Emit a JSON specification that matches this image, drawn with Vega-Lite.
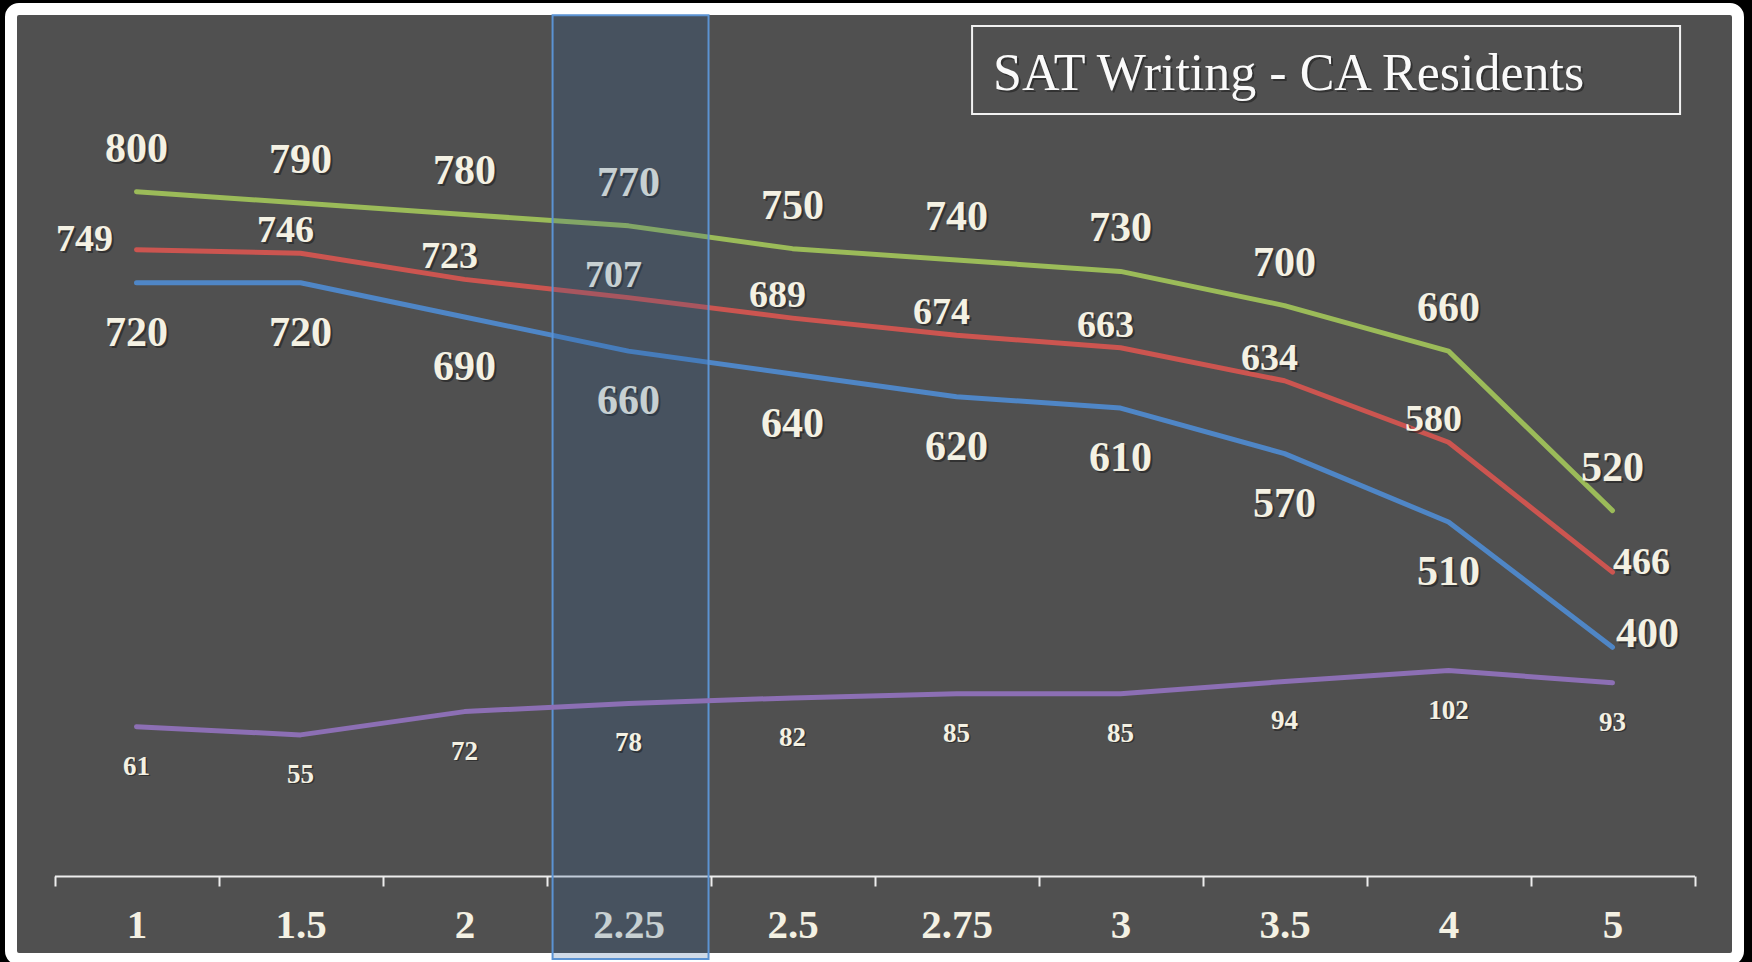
{
  "$schema": "https://vega.github.io/schema/vega-lite/v6.json",
  "width": 1727,
  "height": 950,
  "autosize": "none",
  "padding": {"left": 11, "top": 9, "right": 14, "bottom": 3},
  "background": "#000000",
  "config": {
    "view": {"fill": "#505050", "stroke": "#FFFFFF", "strokeWidth": 12, "cornerRadius": 8},
    "font": "Liberation Serif"
  },
  "data": {
    "values": [
      {"x": "1", "series": "High", "value": 800},
      {"x": "1.5", "series": "High", "value": 790},
      {"x": "2", "series": "High", "value": 780},
      {"x": "2.25", "series": "High", "value": 770},
      {"x": "2.5", "series": "High", "value": 750},
      {"x": "2.75", "series": "High", "value": 740},
      {"x": "3", "series": "High", "value": 730},
      {"x": "3.5", "series": "High", "value": 700},
      {"x": "4", "series": "High", "value": 660},
      {"x": "5", "series": "High", "value": 520},
      {"x": "1", "series": "Average", "value": 749},
      {"x": "1.5", "series": "Average", "value": 746},
      {"x": "2", "series": "Average", "value": 723},
      {"x": "2.25", "series": "Average", "value": 707},
      {"x": "2.5", "series": "Average", "value": 689},
      {"x": "2.75", "series": "Average", "value": 674},
      {"x": "3", "series": "Average", "value": 663},
      {"x": "3.5", "series": "Average", "value": 634},
      {"x": "4", "series": "Average", "value": 580},
      {"x": "5", "series": "Average", "value": 466},
      {"x": "1", "series": "Low", "value": 720},
      {"x": "1.5", "series": "Low", "value": 720},
      {"x": "2", "series": "Low", "value": 690},
      {"x": "2.25", "series": "Low", "value": 660},
      {"x": "2.5", "series": "Low", "value": 640},
      {"x": "2.75", "series": "Low", "value": 620},
      {"x": "3", "series": "Low", "value": 610},
      {"x": "3.5", "series": "Low", "value": 570},
      {"x": "4", "series": "Low", "value": 510},
      {"x": "5", "series": "Low", "value": 400},
      {"x": "1", "series": "Students", "value": 61},
      {"x": "1.5", "series": "Students", "value": 55},
      {"x": "2", "series": "Students", "value": 72},
      {"x": "2.25", "series": "Students", "value": 78},
      {"x": "2.5", "series": "Students", "value": 82},
      {"x": "2.75", "series": "Students", "value": 85},
      {"x": "3", "series": "Students", "value": 85},
      {"x": "3.5", "series": "Students", "value": 94},
      {"x": "4", "series": "Students", "value": 102},
      {"x": "5", "series": "Students", "value": 93}
    ]
  },
  "encoding": {
    "x": {
      "field": "x",
      "type": "ordinal",
      "sort": null,
      "scale": {"range": [43.5, 1683.5], "paddingInner": 0, "paddingOuter": 0},
      "axis": {
        "title": null,
        "offset": -83,
        "labelAngle": 0,
        "domainColor": "#EDEDED",
        "domainWidth": 2,
        "tickColor": "#EDEDED",
        "tickWidth": 2,
        "tickSize": 10,
        "tickBand": "extent",
        "labelFont": "Liberation Serif",
        "labelFontSize": 41,
        "labelFontWeight": "bold",
        "labelColor": "#F4F1E3",
        "labelBaseline": "middle",
        "labelPadding": 39,
        "grid": false
      }
    }
  },
  "layer": [
    {
      "encoding": {
        "y": {"field": "value", "type": "quantitative", "scale": {"domain": [126.3, 960.4], "nice": false, "zero": false}, "axis": null}
      },
      "layer": [
        {
          "transform": [{"filter": "datum.series !== 'Students'"}],
          "mark": {"type": "line", "strokeWidth": 5, "strokeCap": "round", "strokeJoin": "round"},
          "encoding": {
            "color": {"field": "series", "type": "nominal", "scale": {"domain": ["High", "Average", "Low"], "range": ["#9BBB59", "#CC5550", "#4F86C6"]}, "legend": null}
          }
        },
        {
          "transform": [{"filter": "datum.series === 'High'"}],
          "mark": {"type": "text", "font": "Liberation Serif", "fontWeight": "bold", "fontSize": 42, "color": "#1A1A1A", "opacity": 0.55, "baseline": "middle", "align": "center", "dx": 2, "dy": -41},
          "encoding": {"text": {"field": "value", "type": "quantitative"}}
        },
        {
          "transform": [{"filter": "datum.series === 'High'"}],
          "mark": {"type": "text", "font": "Liberation Serif", "fontWeight": "bold", "fontSize": 42, "color": "#F4F1E3", "baseline": "middle", "align": "center", "dy": -43},
          "encoding": {"text": {"field": "value", "type": "quantitative"}}
        },
        {
          "transform": [{"filter": "datum.series === 'Low' && datum.x !== '5'"}],
          "mark": {"type": "text", "font": "Liberation Serif", "fontWeight": "bold", "fontSize": 42, "color": "#1A1A1A", "opacity": 0.55, "baseline": "middle", "align": "center", "dx": 2, "dy": 52},
          "encoding": {"text": {"field": "value", "type": "quantitative"}}
        },
        {
          "transform": [{"filter": "datum.series === 'Low' && datum.x !== '5'"}],
          "mark": {"type": "text", "font": "Liberation Serif", "fontWeight": "bold", "fontSize": 42, "color": "#F4F1E3", "baseline": "middle", "align": "center", "dy": 50},
          "encoding": {"text": {"field": "value", "type": "quantitative"}}
        },
        {
          "transform": [{"filter": "datum.series === 'Low' && datum.x === '5'"}],
          "mark": {"type": "text", "font": "Liberation Serif", "fontWeight": "bold", "fontSize": 42, "color": "#1A1A1A", "opacity": 0.55, "baseline": "middle", "align": "center", "dx": 37, "dy": -11},
          "encoding": {"text": {"field": "value", "type": "quantitative"}}
        },
        {
          "transform": [{"filter": "datum.series === 'Low' && datum.x === '5'"}],
          "mark": {"type": "text", "font": "Liberation Serif", "fontWeight": "bold", "fontSize": 42, "color": "#F4F1E3", "baseline": "middle", "align": "center", "dx": 35, "dy": -13},
          "encoding": {"text": {"field": "value", "type": "quantitative"}}
        },
        {
          "transform": [{"filter": "datum.series === 'Average' && datum.x !== '1' && datum.x !== '5'"}],
          "mark": {"type": "text", "font": "Liberation Serif", "fontWeight": "bold", "fontSize": 38, "color": "#1A1A1A", "opacity": 0.55, "baseline": "middle", "align": "center", "dx": -13, "dy": -20},
          "encoding": {"text": {"field": "value", "type": "quantitative"}}
        },
        {
          "transform": [{"filter": "datum.series === 'Average' && datum.x !== '1' && datum.x !== '5'"}],
          "mark": {"type": "text", "font": "Liberation Serif", "fontWeight": "bold", "fontSize": 38, "color": "#F4F1E3", "baseline": "middle", "align": "center", "dx": -15, "dy": -22},
          "encoding": {"text": {"field": "value", "type": "quantitative"}}
        },
        {
          "transform": [{"filter": "datum.series === 'Average' && datum.x === '1'"}],
          "mark": {"type": "text", "font": "Liberation Serif", "fontWeight": "bold", "fontSize": 38, "color": "#1A1A1A", "opacity": 0.55, "baseline": "middle", "align": "center", "dx": -50, "dy": -8},
          "encoding": {"text": {"field": "value", "type": "quantitative"}}
        },
        {
          "transform": [{"filter": "datum.series === 'Average' && datum.x === '1'"}],
          "mark": {"type": "text", "font": "Liberation Serif", "fontWeight": "bold", "fontSize": 38, "color": "#F4F1E3", "baseline": "middle", "align": "center", "dx": -52, "dy": -10},
          "encoding": {"text": {"field": "value", "type": "quantitative"}}
        },
        {
          "transform": [{"filter": "datum.series === 'Average' && datum.x === '5'"}],
          "mark": {"type": "text", "font": "Liberation Serif", "fontWeight": "bold", "fontSize": 38, "color": "#1A1A1A", "opacity": 0.55, "baseline": "middle", "align": "center", "dx": 31, "dy": -7},
          "encoding": {"text": {"field": "value", "type": "quantitative"}}
        },
        {
          "transform": [{"filter": "datum.series === 'Average' && datum.x === '5'"}],
          "mark": {"type": "text", "font": "Liberation Serif", "fontWeight": "bold", "fontSize": 38, "color": "#F4F1E3", "baseline": "middle", "align": "center", "dx": 29, "dy": -9},
          "encoding": {"text": {"field": "value", "type": "quantitative"}}
        },
        {
          "transform": [{"filter": "datum.series === 'High' && datum.x === '2.75'"}],
          "mark": {"type": "text", "font": "Liberation Serif", "fontSize": 52, "color": "#1A1A1A", "opacity": 0.55, "align": "left", "baseline": "alphabetic", "dx": 2, "dy": 2, "text": "SAT Writing - CA Residents"},
          "encoding": {
            "x": {"field": "x", "type": "ordinal", "bandPosition": 0.723},
            "y": {"datum": 889}
          }
        },
        {
          "transform": [{"filter": "datum.series === 'High' && datum.x === '2.75'"}],
          "mark": {"type": "text", "font": "Liberation Serif", "fontSize": 52, "color": "#FAFAFA", "align": "left", "baseline": "alphabetic", "text": "SAT Writing - CA Residents"},
          "encoding": {
            "x": {"field": "x", "type": "ordinal", "bandPosition": 0.723},
            "y": {"datum": 889}
          }
        },
        {
          "transform": [{"filter": "datum.series === 'High' && datum.x === '2.25'"}],
          "mark": {"type": "rect", "fill": "#2A5C94", "fillOpacity": 0.22, "stroke": "#5B93D3", "strokeWidth": 2},
          "encoding": {
            "x": {"field": "x", "type": "ordinal", "bandPosition": 0.037},
            "x2": {"datum": "2.25", "bandPosition": 0.988},
            "y": {"datum": 955},
            "y2": {"datum": 126.3}
          }
        },
        {
          "transform": [{"filter": "datum.series === 'High' && datum.x === '2.75'"}],
          "mark": {"type": "rect", "fill": "transparent", "stroke": "#F2F2F2", "strokeWidth": 2},
          "encoding": {
            "x": {"field": "x", "type": "ordinal", "bandPosition": 0.595},
            "x2": {"datum": "5", "bandPosition": 0.912},
            "y": {"datum": 945.5},
            "y2": {"datum": 868.2}
          }
        }
      ]
    },
    {
      "transform": [{"filter": "datum.series === 'Students'"}],
      "encoding": {
        "y": {"field": "value", "type": "quantitative", "scale": {"domain": [-108.6, 584.9], "nice": false, "zero": false}, "axis": null}
      },
      "layer": [
        {
          "mark": {"type": "line", "strokeWidth": 5, "strokeCap": "round", "strokeJoin": "round", "color": "#8C6FB4"}
        },
        {
          "mark": {"type": "text", "font": "Liberation Serif", "fontWeight": "bold", "fontSize": 27, "color": "#1A1A1A", "opacity": 0.55, "baseline": "middle", "align": "center", "dx": 1.5, "dy": 41.5},
          "encoding": {"text": {"field": "value", "type": "quantitative"}}
        },
        {
          "mark": {"type": "text", "font": "Liberation Serif", "fontWeight": "bold", "fontSize": 27, "color": "#F4F1E3", "baseline": "middle", "align": "center", "dy": 40},
          "encoding": {"text": {"field": "value", "type": "quantitative"}}
        }
      ]
    }
  ],
  "resolve": {"scale": {"y": "independent"}}
}
